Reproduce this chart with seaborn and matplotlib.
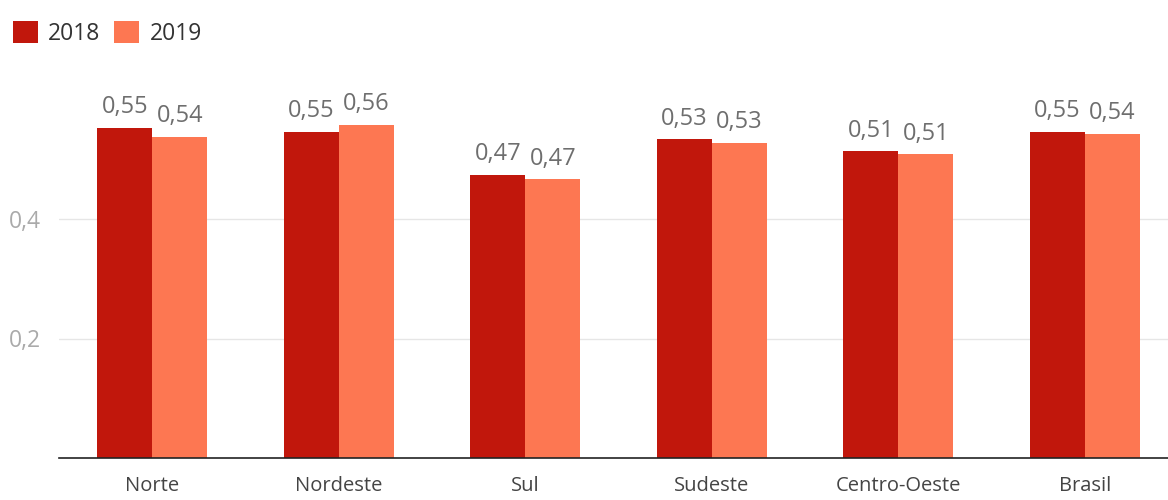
import matplotlib
matplotlib.use("Agg")
import matplotlib.pyplot as plt
import seaborn as sns
import pandas as pd
from matplotlib.patches import Patch

regions = ["Norte", "Nordeste", "Sul", "Sudeste", "Centro-Oeste", "Brasil"]
v2018 = [0.553, 0.546, 0.474, 0.534, 0.513, 0.546]
v2019 = [0.538, 0.558, 0.467, 0.528, 0.508, 0.543]
years = ["2018", "2019"]
yticks = [0.2, 0.4]
ytick_labels = ["0,2", "0,4"]

colors = {"2018": "#C1170C", "2019": "#FD7752"}

df = pd.DataFrame({
    "region": regions * 2,
    "value": v2018 + v2019,
    "year": [years[0]] * len(regions) + [years[1]] * len(regions),
})

sns.set_theme(style="white")
plt.rcParams["font.family"] = ["Open Sans", "DejaVu Sans"]

fig = plt.figure(figsize=(11.68, 5.0), dpi=100)
ax = fig.add_axes([59 / 1168, 42 / 500, 1 - 59 / 1168, (458 - 99.5) / 500])

sns.barplot(data=df, x="region", y="value", hue="year", order=regions,
            hue_order=years, palette=colors, width=0.59, saturation=1,
            ax=ax, legend=False, linewidth=0)

ax.set_ylim(0, 0.6)
ax.set_xlim(-0.5, 5.445)
ax.set_yticks(yticks)
ax.set_yticklabels(ytick_labels)
ax.yaxis.grid(True, color="#E6E6E6", linewidth=1)
ax.set_axisbelow(True)
ax.set_xlabel("")
ax.set_ylabel("")
for s in ["top", "right", "left"]:
    ax.spines[s].set_visible(False)
ax.spines["bottom"].set_color("#222222")
ax.spines["bottom"].set_linewidth(1.2)
ax.tick_params(axis="y", length=0, labelsize=16.5, labelcolor="#AAAAAA", pad=13)
ax.tick_params(axis="x", length=0, labelsize=14.5, labelcolor="#444444", pad=13)

for container in ax.containers:
    labels = [f"{b.get_height():.2f}".replace(".", ",") for b in container]
    ax.bar_label(container, labels=labels, padding=6, fontsize=17, color="#6E6E6E")

handles = [Patch(facecolor=colors[y], edgecolor="none") for y in years]
fig.legend(handles, years, loc="upper left", bbox_to_anchor=(0.003, 0.977),
           ncol=2, frameon=False, fontsize=16.5, handlelength=1.1, handleheight=1.15,
           handletextpad=0.45, columnspacing=0.6, labelcolor="#333333",
           borderaxespad=0.0)

fig.savefig("out.png", dpi=100)
